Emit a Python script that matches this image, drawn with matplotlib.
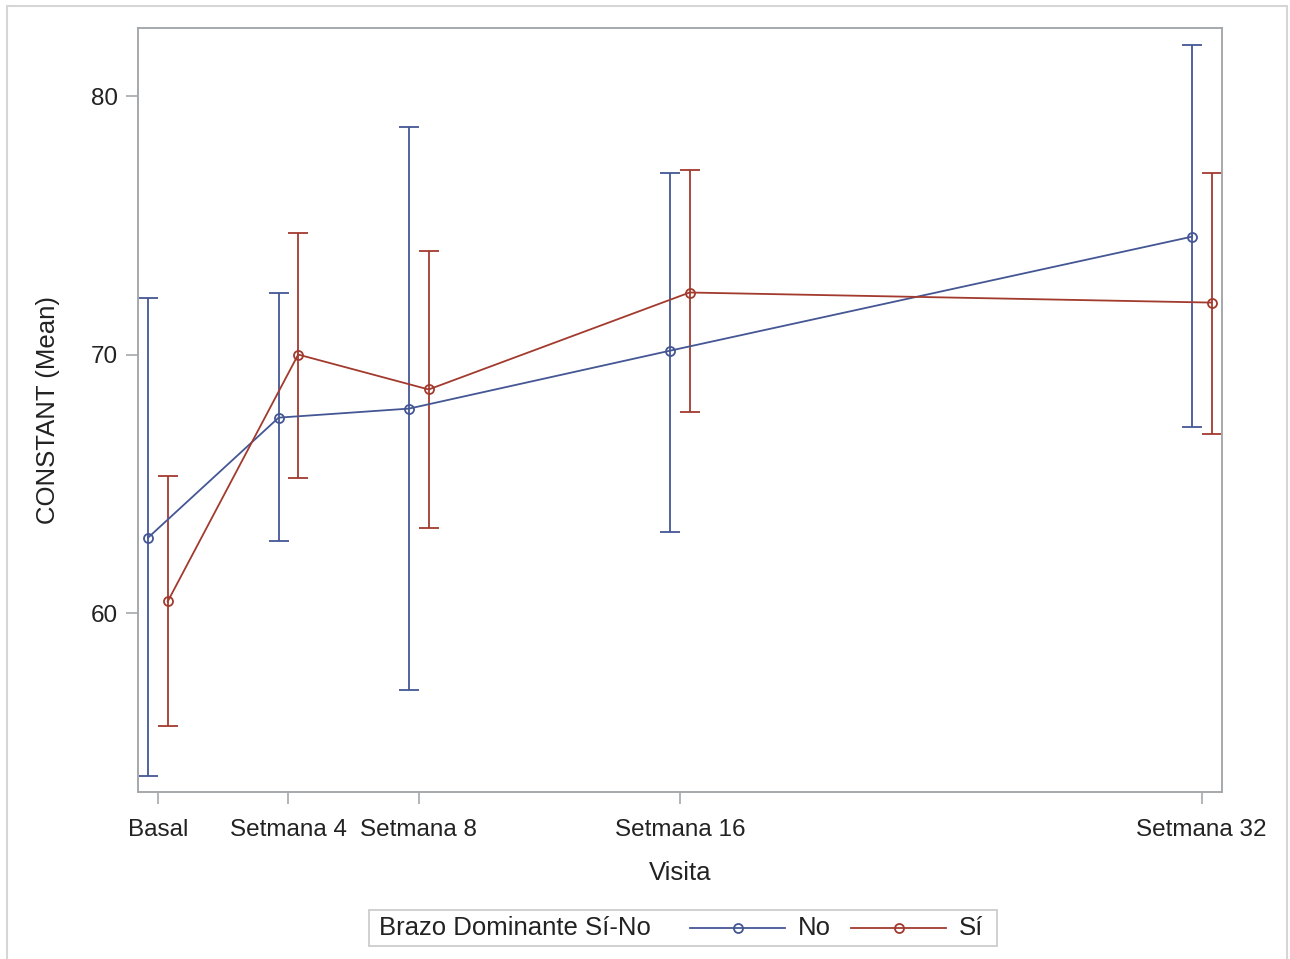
import matplotlib.pyplot as plt
from matplotlib.lines import Line2D
from matplotlib.patches import Rectangle
import numpy as np

plt.rcParams['font.family'] = ['Liberation Sans', 'DejaVu Sans']

weeks = [0, 4, 8, 16, 32]
visit_labels = ['Basal', 'Setmana 4', 'Setmana 8', 'Setmana 16', 'Setmana 32']

no_mean = [62.92, 67.56, 67.91, 70.15, 74.56]
no_upper = [72.17, 72.40, 78.82, 77.04, 81.99]
no_lower = [53.71, 62.77, 57.04, 63.15, 67.18]

si_mean = [60.45, 70.00, 68.65, 72.40, 72.01]
si_upper = [65.32, 74.72, 74.02, 77.12, 77.04]
si_lower = [55.65, 65.24, 63.31, 67.76, 66.94]

blue = '#445694'
red = '#a23a2e'
frame = '#a6a9ab'
shift = 0.3

fig = plt.figure(figsize=(12.9, 9.59), dpi=100)
ax = fig.add_axes([0.107, 0.1741, 0.840, 0.7967])

def draw(mean, lo, hi, dx, color):
    x = np.array(weeks) + dx
    m = np.array(mean)
    yerr = [m - np.array(lo), np.array(hi) - m]
    ax.errorbar(x, m, yerr=yerr, color=color, lw=1.3, elinewidth=1.3,
                capsize=7, capthick=1.3, marker='o', ms=6.5, mfc='none',
                mec=color, mew=1.3)

draw(no_mean, no_lower, no_upper, -shift, blue)
draw(si_mean, si_lower, si_upper, shift, red)

ax.set_xlim(-0.61, 32.61)
ax.set_ylim(53.08, 82.63)
ax.set_xticks(weeks)
ax.set_xticklabels(visit_labels)
ax.set_yticks([60, 70, 80])
for s in ax.spines.values():
    s.set_color(frame)
    s.set_linewidth(1.4)
ax.tick_params(direction='out', length=8.5, width=1.2, color=frame,
               labelsize=17.5, labelcolor='#222222')
ax.tick_params(axis='x', pad=11)
ax.tick_params(axis='y', pad=6)
ax.set_xlabel('Visita', fontsize=18.5, color='#222222', labelpad=14)
ax.set_ylabel('CONSTANT (Mean)', fontsize=18.5, color='#222222', labelpad=22)

# outer border
fig.patches.append(Rectangle((7 / 1290, -0.01), 1280 / 1290, 1 - 6 / 959 + 0.01,
                             transform=fig.transFigure, fill=False,
                             ec='#d6d6d6', lw=1.5))

# legend box
W, H = 1290, 959
def fx(px):
    return px / W
def fy(py):
    return 1 - py / H

fig.patches.append(Rectangle((fx(369), fy(946)), fx(997) - fx(369), fy(910) - fy(946),
                             transform=fig.transFigure, fill=False,
                             ec='#c8c8c8', lw=1.2))
fig.text(fx(379), fy(928), 'Brazo Dominante Sí-No', fontsize=18.5,
         color='#222222', va='center', ha='left')
for x0, x1, color, label in [(690, 785, blue, 'No'), (851, 946, red, 'Sí')]:
    fig.add_artist(Line2D([fx(x0), fx(x1)], [fy(928), fy(928)], color=color,
                          lw=1.3, transform=fig.transFigure))
    fig.add_artist(Line2D([fx((x0 + x1) / 2)], [fy(928)], color=color,
                          marker='o', ms=6.5, mfc='none', mew=1.3,
                          transform=fig.transFigure))
    fig.text(fx(x1 + 13), fy(928), label, fontsize=18.5, color='#222222',
             va='center', ha='left')

fig.savefig('out.png', dpi=100)
